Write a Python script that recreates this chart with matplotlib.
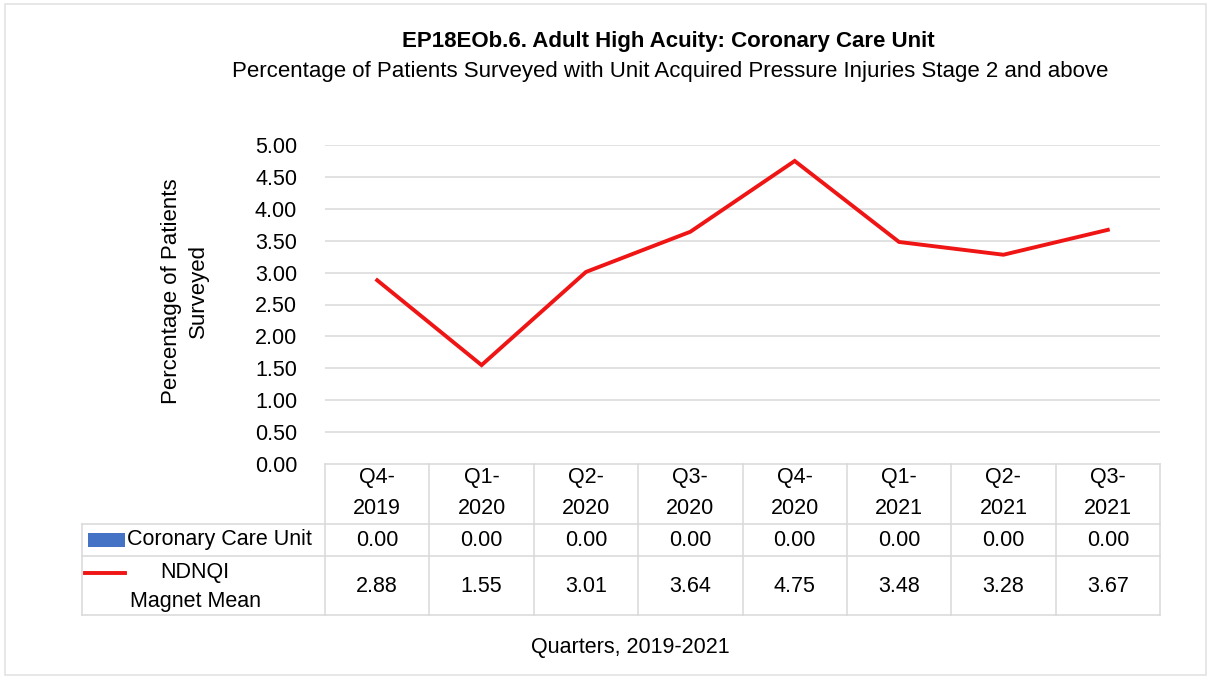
import matplotlib
matplotlib.use("Agg")
import matplotlib.pyplot as plt
import matplotlib.transforms as mtransforms
from matplotlib.patches import Rectangle

plt.rcParams['font.family'] = ['Liberation Sans', 'DejaVu Sans']

quarters = ["Q4-\n2019", "Q1-\n2020", "Q2-\n2020", "Q3-\n2020", "Q4-\n2020", "Q1-\n2021", "Q2-\n2021", "Q3-\n2021"]
ccu = [0.00, 0.00, 0.00, 0.00, 0.00, 0.00, 0.00, 0.00]
ndnqi = [2.88, 1.55, 3.01, 3.64, 4.75, 3.48, 3.28, 3.67]
yticks = [0.0, 0.5, 1.0, 1.5, 2.0, 2.5, 3.0, 3.5, 4.0, 4.5, 5.0]

FS = 15.5
W, H = 1210, 679
fig = plt.figure(figsize=(W / 100, H / 100), dpi=100)
fig.patches.append(Rectangle((5 / W, 4 / H), 1201 / W, 671 / H, transform=fig.transFigure,
                             fill=False, edgecolor='#e3e3e3', lw=1.2))

ax_l, ax_r, ax_t, ax_b = 325, 1160, 145, 464
ax = fig.add_axes([ax_l / W, 1 - ax_b / H, (ax_r - ax_l) / W, (ax_b - ax_t) / H])

x = list(range(len(quarters)))
ax.plot(x, ndnqi, color='#f01515', lw=2.8, solid_joinstyle='miter', zorder=3)

ax.set_xlim(-0.5, len(quarters) - 0.5)
ax.set_ylim(0, 5)
ax.set_yticks(yticks)
ax.set_yticklabels([f"{v:.2f}" for v in yticks], fontsize=FS)
ax.tick_params(axis='y', length=0, pad=20)
ax.set_xticks([])
for s in ax.spines.values():
    s.set_visible(False)
for v in yticks[1:]:
    ax.axhline(v, color='#d9d9d9', lw=1.1, zorder=1)

# data table below the axes
tr = mtransforms.blended_transform_factory(ax.transData, ax.transAxes)
ph = ax_b - ax_t
def ya(py):
    return -(py - ax_b) / ph

left = -0.5 - (ax_l - 82) / ((ax_r - ax_l) / len(quarters))
right = len(quarters) - 0.5
rows = [464, 524, 556, 615]
grid = '#d9d9d9'
ax.plot([-0.5, right], [ya(rows[0])] * 2, transform=tr, color=grid, lw=1.1, clip_on=False)
for r in rows[1:]:
    ax.plot([left, right], [ya(r)] * 2, transform=tr, color=grid, lw=1.1, clip_on=False)
for i in range(len(quarters) + 1):
    ax.plot([i - 0.5] * 2, [ya(rows[0]), ya(rows[-1])], transform=tr, color=grid, lw=1.1, clip_on=False)
ax.plot([left] * 2, [ya(rows[1]), ya(rows[-1])], transform=tr, color=grid, lw=1.1, clip_on=False)

for i, q in enumerate(quarters):
    ax.text(i, ya(493), q, transform=tr, ha='center', va='center', fontsize=FS, linespacing=1.6)
    ax.text(i, ya(540), f"{ccu[i]:.2f}", transform=tr, ha='center', va='center', fontsize=FS)
    ax.text(i, ya(586), f"{ndnqi[i]:.2f}", transform=tr, ha='center', va='center', fontsize=FS)

# legend keys in the table
fig.patches.append(Rectangle((88 / W, 1 - 547 / H), 37 / W, 14 / H, transform=fig.transFigure,
                             facecolor='#4472c4', edgecolor='none'))
fig.add_artist(plt.Line2D([85 / W, 125 / W], [1 - 573 / H] * 2, color='#f01515', lw=2.8))
fig.text(127 / W, 1 - 540 / H, "Coronary Care Unit", ha='left', va='center', fontsize=FS)
fig.text(195 / W, 1 - 587 / H, "NDNQI\nMagnet Mean", ha='center', va='center', fontsize=FS, linespacing=1.45)

fig.text(668 / W, 1 - 42 / H, "EP18EOb.6. Adult High Acuity: Coronary Care Unit",
         ha='center', va='center', fontsize=16, fontweight='bold')
fig.text(670 / W, 1 - 71 / H, "Percentage of Patients Surveyed with Unit Acquired Pressure Injuries Stage 2 and above",
         ha='center', va='center', fontsize=16)
fig.text(185 / W, 1 - 291 / H, "Percentage of Patients\nSurveyed", rotation=90,
         ha='center', va='center', fontsize=16, linespacing=1.4)
fig.text(630 / W, 1 - 648 / H, "Quarters, 2019-2021", ha='center', va='center', fontsize=FS)

fig.savefig("out.png", dpi=100)
